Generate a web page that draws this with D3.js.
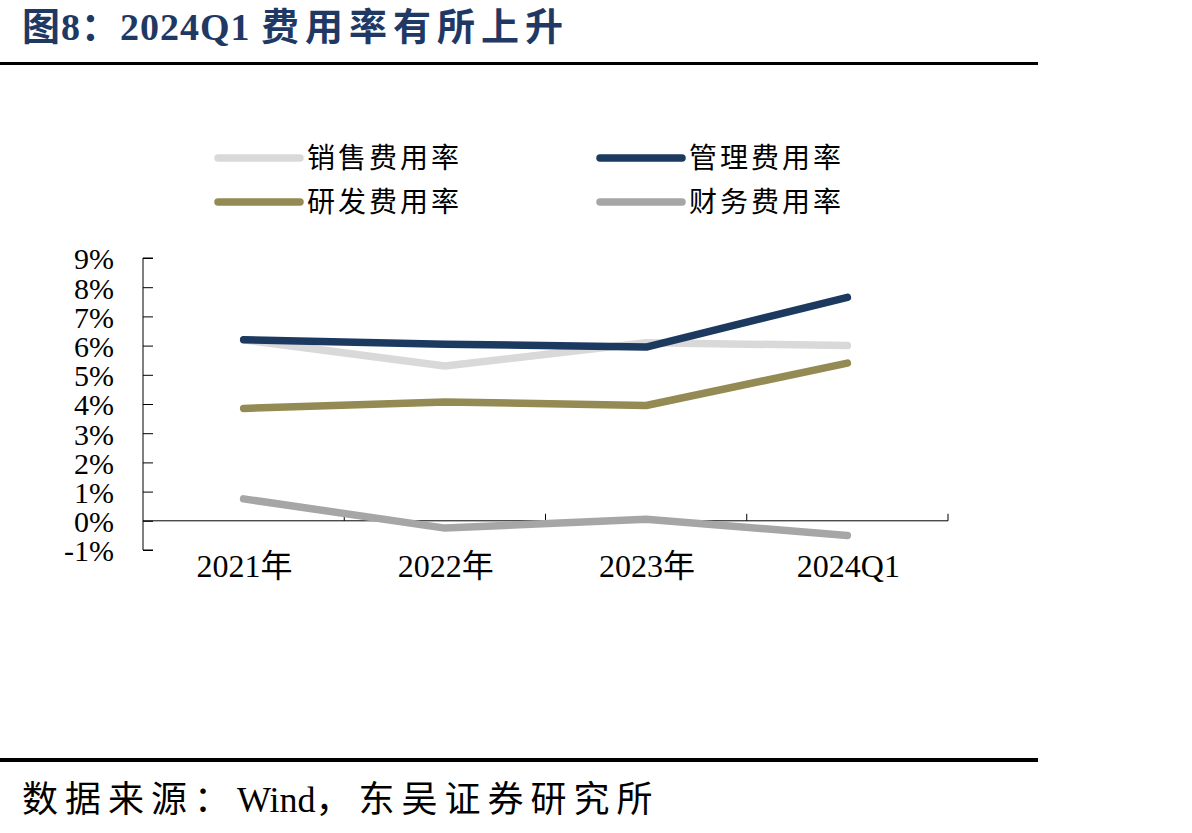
<!DOCTYPE html>
<html>
<head>
<meta charset="utf-8">
<script src="https://cdn.jsdelivr.net/npm/d3@7"></script>
<style>
  body { margin: 0; background: #fff; }
  svg text { font-family: "Liberation Serif", "Times New Roman", "Noto Sans CJK SC", serif; }
</style>
</head>
<body>
<div id="chart"></div>
<script>
const categories = ["2021年", "2022年", "2023年", "2024Q1"];
const seriesNames = ["销售费用率", "管理费用率", "研发费用率", "财务费用率"];
const seriesColors = ["#d9d9d9", "#1c3a60", "#948a54", "#a6a6a6"];
const salesRate = [6.2, 5.3, 6.1, 6.0];
const adminRate = [6.2, 6.05, 5.95, 7.65];
const rdRate = [3.85, 4.07, 3.95, 5.4];
const finRate = [0.75, -0.25, 0.05, -0.5];
const yTicks = [-1, 0, 1, 2, 3, 4, 5, 6, 7, 8, 9];

const allSeries = [salesRate, adminRate, rdRate, finRate];

const width = 1192, height = 833;
const svg = d3.select("#chart").append("svg")
    .attr("width", width)
    .attr("height", height);

// title and rules
const title = svg.append("text")
    .attr("x", 22)
    .attr("y", 40)
    .attr("fill", "#1f3864")
    .style("font-size", "38px")
    .style("font-weight", "bold");
title.append("tspan").style("letter-spacing", "1px").text("图8：2024Q1 ");
title.append("tspan").style("letter-spacing", "6px").text("费用率有所上升");

svg.append("line")
    .attr("x1", 0).attr("x2", 1038)
    .attr("y1", 63.5).attr("y2", 63.5)
    .attr("stroke", "#000").attr("stroke-width", 3);

svg.append("line")
    .attr("x1", 0).attr("x2", 1038)
    .attr("y1", 760).attr("y2", 760)
    .attr("stroke", "#000").attr("stroke-width", 4);

const source = svg.append("text")
    .attr("x", 22)
    .attr("y", 812)
    .style("font-size", "36px");
source.append("tspan").style("letter-spacing", "7px").text("数据来源：");
source.append("tspan").style("letter-spacing", "0px").text("Wind");
source.append("tspan").style("letter-spacing", "7px").text("，东吴证券研究所");

// scales
const plot = { left: 143, right: 948, top: 258, bottom: 550 };
const x = d3.scaleBand().domain(categories).range([plot.left, plot.right]);
const y = d3.scaleLinear().domain([-1, 9]).range([plot.bottom, plot.top]);

// y axis
const yAxis = svg.append("g")
    .attr("transform", `translate(${plot.left},0)`)
    .call(d3.axisRight(y).tickValues(yTicks).tickSize(10).tickFormat(d => d + "%"));
yAxis.select(".domain").attr("stroke", "#000").attr("d", `M10,${plot.top}H0V${plot.bottom}H10`);
yAxis.selectAll(".tick line").attr("stroke", "#000");
yAxis.selectAll(".tick text")
    .attr("x", -29)
    .attr("text-anchor", "end")
    .attr("dy", "0.36em")
    .style("font-size", "30px")
    .attr("fill", "#000");

// x axis at 0%
const xAxis = svg.append("g")
    .attr("transform", `translate(0,${y(0)})`);
xAxis.append("line")
    .attr("x1", plot.left).attr("x2", plot.right)
    .attr("stroke", "#000");
xAxis.selectAll(".xtick")
    .data(categories.slice(1).concat(["end"]))
    .enter().append("line")
    .attr("class", "xtick")
    .attr("x1", (d, i) => plot.left + x.bandwidth() * (i + 1))
    .attr("x2", (d, i) => plot.left + x.bandwidth() * (i + 1))
    .attr("y1", 0).attr("y2", -7)
    .attr("stroke", "#000");

svg.selectAll(".xlabel")
    .data(categories)
    .enter().append("text")
    .attr("class", "xlabel")
    .attr("x", d => x(d) + x.bandwidth() / 2 + 1)
    .attr("y", 577)
    .attr("text-anchor", "middle")
    .style("font-size", "32px")
    .text(d => d);

// lines
const line = d3.line()
    .x((d, i) => x(categories[i]) + x.bandwidth() / 2)
    .y(d => y(d));

svg.selectAll(".series")
    .data(allSeries)
    .enter().append("path")
    .attr("class", "series")
    .attr("d", line)
    .attr("fill", "none")
    .attr("stroke", (d, i) => seriesColors[i])
    .attr("stroke-width", 7.5)
    .attr("stroke-linecap", "round")
    .attr("stroke-linejoin", "round");

// legend
const legendPos = [[218, 158], [600, 158], [218, 202], [600, 202]];
const legend = svg.selectAll(".legend")
    .data(seriesNames)
    .enter().append("g")
    .attr("class", "legend")
    .attr("transform", (d, i) => `translate(${legendPos[i][0]},${legendPos[i][1]})`);
legend.append("line")
    .attr("x1", 0).attr("x2", 82)
    .attr("stroke", (d, i) => seriesColors[i])
    .attr("stroke-width", 7.5)
    .attr("stroke-linecap", "round");
legend.append("text")
    .attr("x", 89)
    .attr("dy", "0.36em")
    .style("font-size", "28px")
    .style("letter-spacing", "3px")
    .text(d => d);
</script>
</body>
</html>
